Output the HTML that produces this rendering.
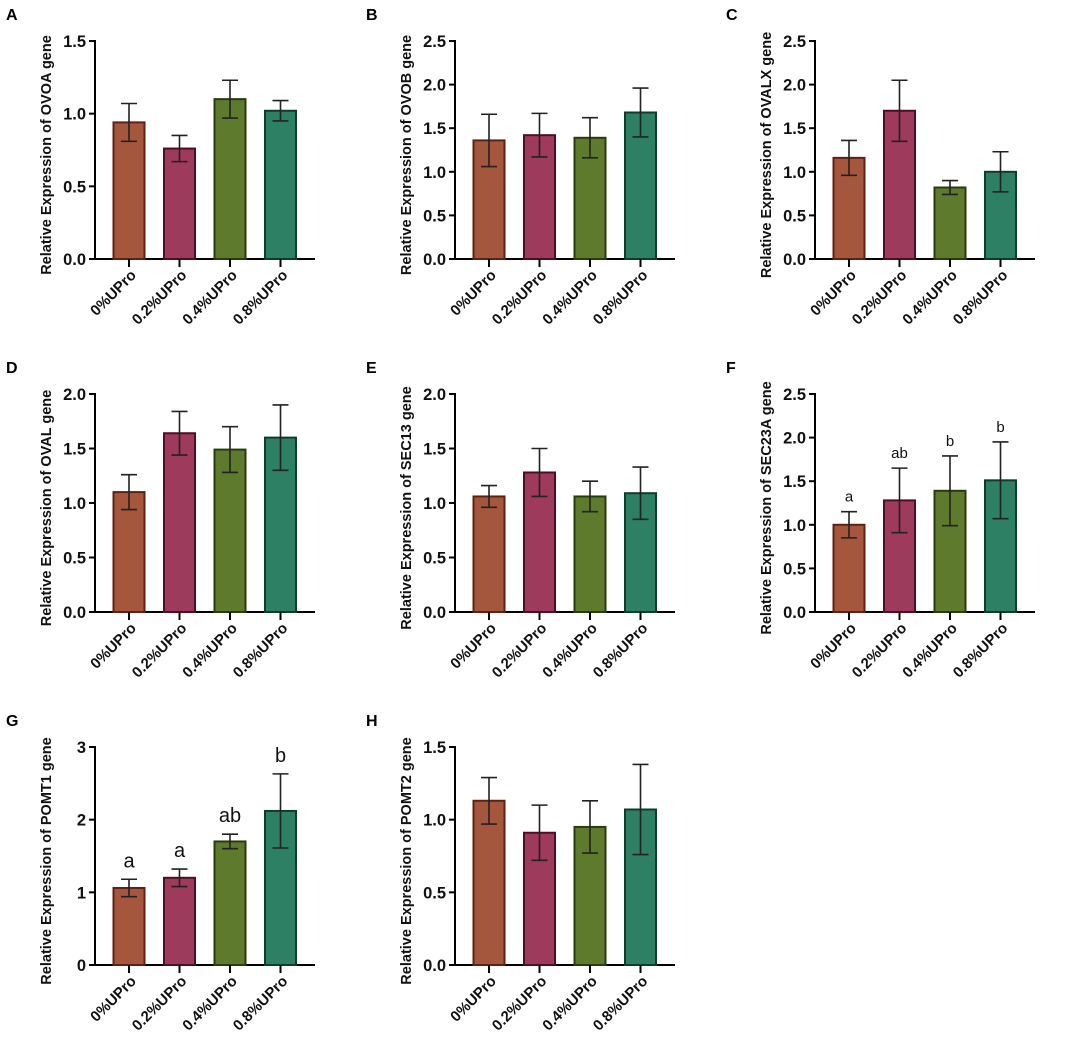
<!DOCTYPE html>
<html><head><meta charset="utf-8"><style>
html,body{margin:0;padding:0;background:#fff}
svg{display:block;font-family:"Liberation Sans",Arial,sans-serif}
</style></head><body>
<svg id="fig" width="1084" height="1049" viewBox="0 0 1084 1049" xmlns="http://www.w3.org/2000/svg"></svg>
<script>
const categories=["0%UPro","0.2%UPro","0.4%UPro","0.8%UPro"];
const panelLetters=["A","B","C","D","E","F","G","H"];
const genes=["OVOA","OVOB","OVALX","OVAL","SEC13","SEC23A","POMT1","POMT2"];
const yMaxes=[1.5,2.5,2.5,2.0,2.0,2.5,3,1.5];
const yTickSteps=[0.5,0.5,0.5,0.5,0.5,0.5,1,0.5];
const valsA=[0.94,0.76,1.10,1.02], errA=[0.13,0.09,0.13,0.07];
const valsB=[1.36,1.42,1.39,1.68], errB=[0.30,0.25,0.23,0.28];
const valsC=[1.16,1.70,0.82,1.00], errC=[0.20,0.35,0.08,0.23];
const valsD=[1.10,1.64,1.49,1.60], errD=[0.16,0.20,0.21,0.30];
const valsE=[1.06,1.28,1.06,1.09], errE=[0.10,0.22,0.14,0.24];
const valsF=[1.00,1.28,1.39,1.51], errF=[0.15,0.37,0.40,0.44];
const valsG=[1.06,1.20,1.70,2.12], errG=[0.12,0.12,0.10,0.51];
const valsH=[1.13,0.91,0.95,1.07], errH=[0.16,0.19,0.18,0.31];
const sigF=["a","ab","b","b"], sigG=["a","a","ab","b"];
const allVals=[valsA,valsB,valsC,valsD,valsE,valsF,valsG,valsH];
const allErr=[errA,errB,errC,errD,errE,errF,errG,errH];
const allSig=[null,null,null,null,null,sigF,sigG,null];

const fills=["#a5573e","#9e3a5c","#5e7a2c","#2e8065"];
const strokes=["#5e2212","#4f0d28","#2a3c0c","#0f3d2c"];
const NS="http://www.w3.org/2000/svg";
const svg=document.getElementById("fig");
function mk(tag,attrs,parent){const e=document.createElementNS(NS,tag);for(const k in attrs)e.setAttribute(k,attrs[k]);(parent||svg).appendChild(e);return e;}

for(let p=0;p<8;p++){
  const col=p%3,row=Math.floor(p/3);
  const ox=col*360, oy=[0,353,706][row];
  const g=mk("g",{transform:`translate(${ox},${oy})`});
  
  
  const ax=95, yTop=41, y0=259, xEnd=315;
  const ymax=yMaxes[p];
  const ys=v=>y0-(v/ymax)*(y0-yTop);
  const xc=i=>129+i*50.5;
  const lt=mk("text",{x:6,y:20,"font-size":16,"font-weight":"bold",fill:"#000"},g);
  lt.textContent=panelLetters[p];
  
  
  const ya=mk("line",{x1:ax,y1:yTop-1,x2:ax,y2:y0+1,stroke:"#000","stroke-width":2},g);
  
  
  const xa=mk("line",{x1:ax-1,y1:y0,x2:xEnd,y2:y0,stroke:"#000","stroke-width":2},g);
  
  
  const step=yTickSteps[p];
  for(let v=0;v<=ymax+1e-9;v+=step){
    const y=ys(v);
    mk("line",{x1:ax-6,y1:y,x2:ax,y2:y,stroke:"#000","stroke-width":2},g);
    const t=mk("text",{x:ax-9,y:y+6,"font-size":16.5,"font-weight":"bold","text-anchor":"end",fill:"#111"},g);
    t.textContent=step<1?v.toFixed(1):String(Math.round(v));
    
    
  }
  const yt=mk("text",{transform:`translate(51,${(yTop+y0)/2+5}) rotate(-90)`,"font-size":14.5,"font-weight":"bold","text-anchor":"middle",fill:"#111"},g);
  yt.textContent=`Relative Expression of ${genes[p]} gene`;
  
  
  const vals=allVals[p],errs=allErr[p],sig=allSig[p];
  for(let i=0;i<4;i++){
    const x=xc(i),w=31;
    const r=mk("rect",{x:x-w/2,y:ys(vals[i]),width:w,height:y0-ys(vals[i]),fill:fills[i],stroke:strokes[i],"stroke-width":2},g);
    
    
    const yh=ys(vals[i]+errs[i]),yl=ys(vals[i]-errs[i]);
    const eb=mk("path",{d:`M${x},${yh}V${yl}M${x-8},${yh}H${x+8}M${x-8},${yl}H${x+8}`,stroke:"#222","stroke-width":1.6,fill:"none"},g);
    
    
    mk("line",{x1:x,y1:y0,x2:x,y2:y0+8,stroke:"#000","stroke-width":2},g);
    const xl=mk("text",{transform:`translate(${x+8},${y0+17}) rotate(-45)`,"font-size":15,"font-weight":"bold","text-anchor":"end",fill:"#111"},g);
    xl.textContent=categories[i];
    
    
    if(sig){
      const fs=p===6?20:15;
      const s=mk("text",{x:x,y:yh-(p===6?12:10),"font-size":fs,"text-anchor":"middle",fill:"#111"},g);
      s.textContent=sig[i];
      
      
    }
  }
}
</script>
</body></html>
